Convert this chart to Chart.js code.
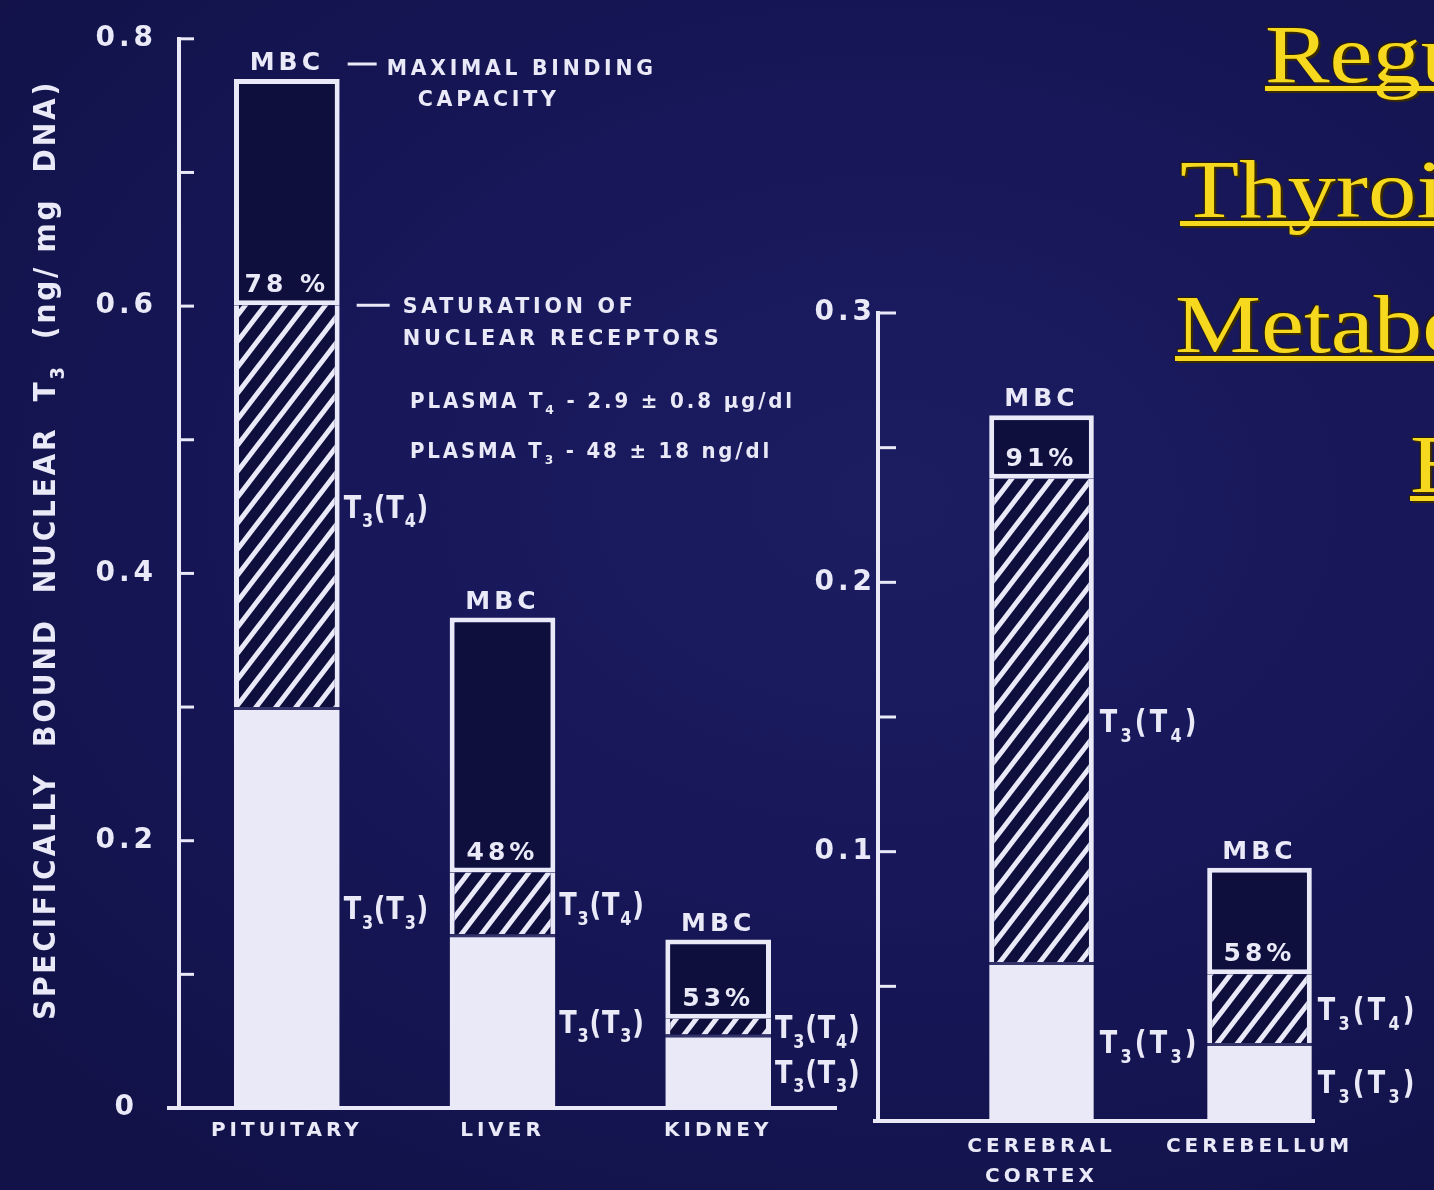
<!DOCTYPE html>
<html lang="en">
<head>
<meta charset="utf-8">
<title>Nuclear T3 receptor saturation</title>
<script src="https://cdn.jsdelivr.net/npm/chart.js@4.4.1/dist/chart.umd.min.js"></script>
<style>
  html, body { margin: 0; padding: 0; }
  body {
    position: relative; width: 1434px; height: 1190px; overflow: hidden;
    background: radial-gradient(ellipse 80% 70% at 62% 42%, #1c1c61 0%, #17175a 45%, #121249 100%);
  }
  canvas { position: absolute; top: 0; }
  #peripheral { left: 0; }
  #brain { left: 780px; }
  .heading {
    position: absolute; margin: 0; white-space: nowrap;
    font: 82px/1 "Liberation Serif", "DejaVu Serif", serif;
    color: #f6d81e;
    transform: scaleX(1.18); transform-origin: 0 0;
    text-decoration: underline; text-decoration-thickness: 5px; text-underline-offset: 4px;
    text-decoration-skip-ink: none;
    text-shadow: 2px 2px 0 #3a2a00, -1px -1px 1px #2b2000;
  }
</style>
</head>
<body>
<canvas id="peripheral" width="900" height="1190"></canvas>
<canvas id="brain" width="654" height="1190"></canvas>
<div class="heading" style="left:1265px;top:14px">Regulation of</div>
<div class="heading" style="left:1180px;top:149px">Thyroid Hormone</div>
<div class="heading" style="left:1175px;top:284px">Metabolism in the</div>
<div class="heading" style="left:1410px;top:424px">Brain</div>
<script>
// Specifically bound nuclear T3 (ng / mg DNA) in peripheral tissues
const peripheralTissues = ['PITUITARY', 'LIVER', 'KIDNEY'];
const peripheralCapacity = [0.77, 0.367, 0.126];      // MBC - maximal binding capacity
const peripheralSaturation = ['78 %', '48%', '53%'];  // saturation of nuclear receptors
const peripheralFromT3 = [0.30, 0.13, 0.055];         // T3(T3): nuclear T3 derived from plasma T3
const peripheralAxisLabels = [0, 0.2, 0.4, 0.6, 0.8];

// Same measure in brain regions (blank categories keep the bars spaced along the axis)
const brainTissues = ['', ['CEREBRAL', 'CORTEX'], '', 'CEREBELLUM'];
const brainCapacity = [null, 0.262, null, 0.094];
const brainSaturation = [null, '91%', null, '58%'];
const brainFromT3 = [null, 0.059, null, 0.029];
const brainAxisLabels = [0.1, 0.2, 0.3];

const INK = '#e9e9f7';
const CELL = '#0f0f3e';
const FONT = '"DejaVu Sans", "Liberation Sans", sans-serif';

// Split each bar: T3 from T3, T3 from T4 (rest of the occupied share), unoccupied capacity
function segments(capacity, saturation, fromT3) {
  const occupied = capacity.map((c, i) => c == null ? null : c * parseFloat(saturation[i]) / 100);
  return {
    fromT3,
    fromT4: occupied.map((o, i) => o == null ? null : o - fromT3[i]),
    free: capacity.map((c, i) => c == null ? null : c - occupied[i])
  };
}

// Diagonal hatching for the T3(T4) segment; strokes run past the tile so it repeats seamlessly
function makeHatch() {
  const w = 20, h = 26;
  const c = document.createElement('canvas');
  c.width = w; c.height = h;
  const g = c.getContext('2d');
  g.fillStyle = CELL; g.fillRect(0, 0, w, h);
  g.strokeStyle = INK; g.lineWidth = 5;
  for (const dx of [-w, 0, w]) {
    g.beginPath(); g.moveTo(dx - w, 2 * h); g.lineTo(dx + 2 * w, -h); g.stroke();
  }
  return g.createPattern(c, 'repeat');
}
const hatch = makeHatch();

// Text with subscripts; y is the middle of the capitals
function drawRich(ctx, parts, x, y, o) {
  const size = o.size;
  const subSize = Math.round(size * 0.62);
  ctx.save();
  ctx.letterSpacing = (o.spacing || 0) + 'px';
  ctx.fillStyle = INK;
  ctx.textAlign = 'left';
  ctx.textBaseline = 'alphabetic';
  const fonts = parts.map(p => `bold ${p.sub ? subSize : size}px ${FONT}`);
  const widths = parts.map((p, i) => { ctx.font = fonts[i]; return ctx.measureText(p.t).width; });
  const natural = widths.reduce((a, b) => a + b, 0);
  const sx = o.width ? o.width / natural : (o.squeeze || 1);
  ctx.translate(x, y);
  if (o.rotate) ctx.rotate(o.rotate);
  ctx.scale(sx, 1);
  let cursor = o.align === 'center' ? -natural / 2 : o.align === 'right' ? -natural : 0;
  const baseline = size * 0.36;
  parts.forEach((p, i) => {
    ctx.font = fonts[i];
    ctx.fillText(p.t, cursor, baseline + (p.sub ? size * 0.3 : 0));
    cursor += widths[i];
  });
  ctx.restore();
}
const plain = t => [{ t }];
const t3Label = src => [{ t: 'T' }, { t: '3', sub: true }, { t: '(T' }, { t: src, sub: true }, { t: ')' }];

function bindingPlugin(saturation, look) {
  return {
    id: 'binding',
    beforeUpdate(chart) { chart.ctx.letterSpacing = '4px'; },
    beforeDraw(chart) { chart.ctx.letterSpacing = '4px'; },
    afterDraw(chart) {
      const { ctx, chartArea: area, scales: { y } } = chart;
      ctx.save();
      ctx.strokeStyle = INK;
      ctx.lineWidth = 3;
      // tick marks point into the plot
      y.ticks.forEach(t => {
        const py = y.getPixelForValue(t.value);
        ctx.beginPath(); ctx.moveTo(area.left, py); ctx.lineTo(area.left + look.tickLen, py); ctx.stroke();
      });
      ctx.lineWidth = 4;
      ctx.beginPath();
      ctx.moveTo(area.left - look.baseExt[0], area.bottom);
      ctx.lineTo(area.right + look.baseExt[1], area.bottom);
      ctx.stroke();
      ctx.restore();

      const white = chart.getDatasetMeta(0).data;
      const hatched = chart.getDatasetMeta(1).data;
      const free = chart.getDatasetMeta(2).data;
      free.forEach((bar, i) => {
        if (saturation[i] == null) return;
        const right = bar.x + bar.width / 2;
        drawRich(ctx, plain('MBC'), bar.x, bar.y - 18, { size: 25, spacing: 4, align: 'center' });
        drawRich(ctx, plain(saturation[i]), bar.x, bar.base - 22, { size: 25, spacing: 4, align: 'center' });
        const lx = right + look.sideGap;
        drawRich(ctx, t3Label('4'), lx, (hatched[i].y + hatched[i].base) / 2, { size: 32, spacing: look.sideSpacing, squeeze: 0.8 });
        drawRich(ctx, t3Label('3'), lx, (white[i].y + white[i].base) / 2, { size: 32, spacing: look.sideSpacing, squeeze: 0.8 });
      });
      if (look.notes) look.notes(ctx, free[0]);
    }
  };
}

function bindingChart(canvasId, tissues, capacity, saturation, fromT3, axisLabels, look) {
  const seg = segments(capacity, saturation, fromT3);
  const shared = { barPercentage: look.barPercentage, categoryPercentage: 1 };
  return new Chart(document.getElementById(canvasId), {
    type: 'bar',
    data: {
      labels: tissues,
      datasets: [
        { label: 'T3(T3)', data: seg.fromT3, backgroundColor: INK, borderColor: '#34346a',
          borderWidth: { top: 3 }, borderSkipped: false, ...shared },
        { label: 'T3(T4)', data: seg.fromT4, backgroundColor: hatch, borderColor: INK,
          borderWidth: { left: 5, right: 5 }, borderSkipped: false, ...shared },
        { label: 'Unoccupied', data: seg.free, backgroundColor: CELL, borderColor: INK,
          borderWidth: 5, borderSkipped: false, ...shared }
      ]
    },
    options: {
      responsive: false,
      animation: false,
      events: [],
      layout: { padding: look.padding },
      plugins: { legend: { display: false }, tooltip: { enabled: false } },
      scales: {
        x: {
          stacked: true,
          afterFit: s => { s.height = look.xHeight; },
          grid: { display: false, drawTicks: false },
          border: { display: true, color: INK, width: 4 },
          ticks: { color: INK, font: { family: FONT, size: 20, weight: 'bold', lineHeight: 1.5 },
                   padding: look.xPad, maxRotation: 0, autoSkip: false }
        },
        y: {
          stacked: true, min: 0, max: look.max,
          afterFit: s => { s.width = look.yWidth; },
          grid: { display: false, drawTicks: false },
          border: { display: true, color: INK, width: 4 },
          ticks: {
            stepSize: look.step, autoSkip: false, color: INK, crossAlign: 'center', padding: look.yPad,
            font: { family: FONT, size: 28, weight: 'bold' },
            callback: v => {
              const hit = axisLabels.find(a => Math.abs(a - v) < 1e-6);
              return hit === undefined ? '' : String(hit);
            }
          }
        }
      }
    },
    plugins: [bindingPlugin(saturation, look)]
  });
}

bindingChart('peripheral', peripheralTissues, peripheralCapacity, peripheralSaturation,
  peripheralFromT3, peripheralAxisLabels, {
    padding: { top: 22, right: 74, bottom: 0, left: 0 },
    yWidth: 179, xHeight: 82, max: 0.8, step: 0.1, yPad: 22, xPad: 8,
    barPercentage: 0.49, tickLen: 15, baseExt: [12, 11], sideGap: 4, sideSpacing: 1,
    notes(ctx, bar) {
      const right = bar.x + bar.width / 2;
      const mbcY = bar.y - 15, satY = bar.base;
      ctx.save();
      ctx.strokeStyle = INK; ctx.lineWidth = 3;
      ctx.beginPath();
      ctx.moveTo(right + 8, mbcY); ctx.lineTo(right + 37, mbcY);
      ctx.moveTo(right + 17, satY); ctx.lineTo(right + 50, satY);
      ctx.stroke();
      ctx.restore();
      drawRich(ctx, plain('MAXIMAL BINDING'), right + 47, mbcY + 3, { size: 22, spacing: 4, width: 270 });
      drawRich(ctx, plain('CAPACITY'), right + 78, mbcY + 34, { size: 22, spacing: 4, width: 142 });
      drawRich(ctx, plain('SATURATION OF'), right + 63, satY, { size: 22, spacing: 4, width: 234 });
      drawRich(ctx, plain('NUCLEAR RECEPTORS'), right + 63, satY + 32, { size: 22, spacing: 4, width: 320 });
      drawRich(ctx, [{ t: 'PLASMA T' }, { t: '4', sub: true }, { t: ' - 2.9 ± 0.8 µg/dl' }], 410, 400,
        { size: 21, spacing: 3, width: 385 });
      drawRich(ctx, [{ t: 'PLASMA T' }, { t: '3', sub: true }, { t: ' - 48 ± 18 ng/dl' }], 410, 450,
        { size: 21, spacing: 3, width: 362 });
      drawRich(ctx, [{ t: 'SPECIFICALLY  BOUND  NUCLEAR  T' }, { t: '3', sub: true }, { t: '  (ng/ mg  DNA)' }],
        44, 550, { size: 30, spacing: 3, width: 940, align: 'center', rotate: -Math.PI / 2 });
    }
  });

bindingChart('brain', brainTissues, brainCapacity, brainSaturation,
  brainFromT3, brainAxisLabels, {
    padding: { top: 313, right: 120, bottom: 0, left: 0 },
    yWidth: 98, xHeight: 69, max: 0.3, step: 0.05, yPad: 2, xPad: 11,
    barPercentage: 0.96, tickLen: 18, baseExt: [5, 0], sideGap: 6, sideSpacing: 4
  });
</script>
</body>
</html>
